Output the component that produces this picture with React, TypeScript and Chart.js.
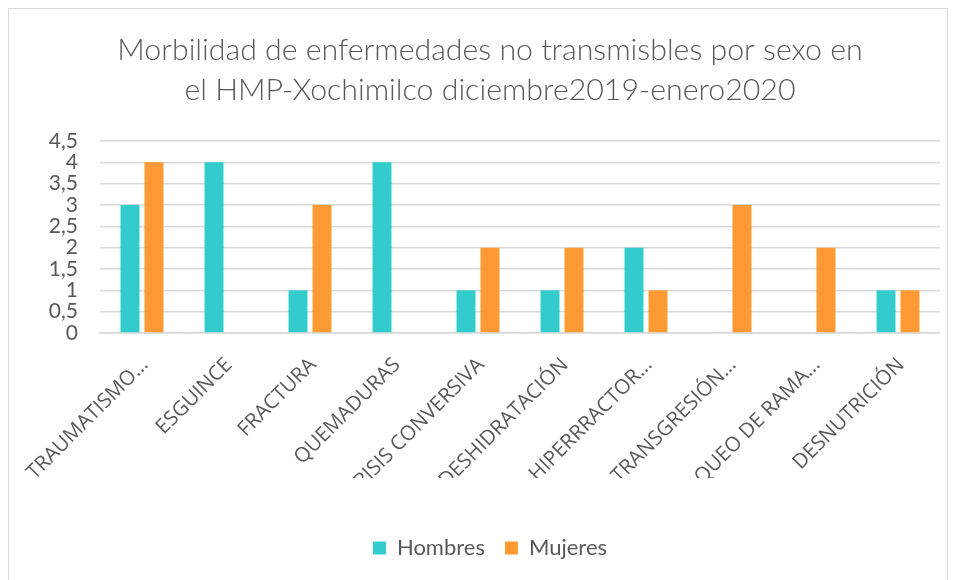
import React, { useEffect, useRef } from "react";
import { Chart, registerables } from "chart.js";

Chart.register(...registerables);

const categories = [
  "TRAUMATISMO…",
  "ESGUINCE",
  "FRACTURA",
  "QUEMADURAS",
  "CRISIS CONVERSIVA",
  "DESHIDRATACIÓN",
  "HIPERRRACTOR…",
  "TRANSGRESIÓN…",
  "BLOQUEO DE RAMA…",
  "DESNUTRICIÓN",
];
const hombres = [3, 4, 1, 4, 1, 1, 2, 0, 0, 1];
const mujeres = [4, 0, 3, 0, 2, 2, 1, 3, 2, 1];
const titleLines = [
  "Morbilidad de enfermedades no transmisbles por sexo en",
  "el HMP-Xochimilco diciembre2019-enero2020",
];

const FONT = "Lato, 'Open Sans', sans-serif";
const XFONT = "'Open Sans', sans-serif";
const GRAY = "#595959";

// white band hiding the part of long rotated labels that Excel clips
const clipBand = {
  id: "clipBand",
  afterDraw(chart: any) {
    const ctx = chart.ctx;
    ctx.save();
    ctx.fillStyle = "#fff";
    ctx.fillRect(0, 469, chart.width, 40);
    ctx.restore();
  },
};

export default function App() {
  const ref = useRef<HTMLCanvasElement | null>(null);
  useEffect(() => {
    if (!ref.current) return;
    const chart = new Chart(ref.current, {
      type: "bar",
      data: {
        labels: categories,
        datasets: [
          { label: "Hombres", data: hombres, backgroundColor: "#33CCCC" },
          { label: "Mujeres", data: mujeres, backgroundColor: "#FF9933" },
        ],
      },
      plugins: [clipBand],
      options: {
        animation: false,
        responsive: false,
        maintainAspectRatio: false,
        datasets: { bar: { categoryPercentage: 0.571, barPercentage: 0.79 } },
        layout: { padding: { left: 31, right: 0, top: 0, bottom: 12 } },
        plugins: {
          title: {
            display: true,
            text: titleLines,
            color: GRAY,
            font: { family: FONT, size: 30.3, weight: 300, lineHeight: 1.32 },
            padding: { top: 21, bottom: 31 },
          },
          legend: {
            position: "bottom",
            labels: {
              color: GRAY,
              font: { family: FONT, size: 22 },
              boxWidth: 13,
              boxHeight: 13,
              padding: 20,
            },
          },
          tooltip: { enabled: false },
        },
        scales: {
          x: {
            grid: { display: false },
            border: { color: "#d9d9d9", width: 1.5 },
            afterFit: (s: any) => {
              s.height = 184;
              s.paddingLeft = 0;
              s.paddingRight = 0;
            },
            ticks: {
              color: GRAY,
              font: { family: XFONT, size: 20.5 },
              maxRotation: 45,
              minRotation: 45,
              autoSkip: false,
              padding: 12,
              labelOffset: 3,
            },
          },
          y: {
            min: 0,
            max: 4.5,
            afterFit: (s: any) => {
              s.width = 60;
            },
            grid: { color: "#d9d9d9", drawTicks: false, lineWidth: 1.5 },
            border: { display: false },
            ticks: {
              stepSize: 0.5,
              autoSkip: false,
              color: GRAY,
              padding: 22,
              font: { family: FONT, size: 21 },
              callback: (v: any) => String(v).replace(".", ","),
            },
          },
        },
      },
    });
    return () => chart.destroy();
  }, []);
  return (
    <div
      style={{
        width: 940,
        height: 574,
        border: "1px solid #d9d9d9",
        boxSizing: "border-box",
        background: "#fff",
      }}
    >
      <canvas ref={ref} width={931} height={572} style={{ display: "block" }} />
    </div>
  );
}
